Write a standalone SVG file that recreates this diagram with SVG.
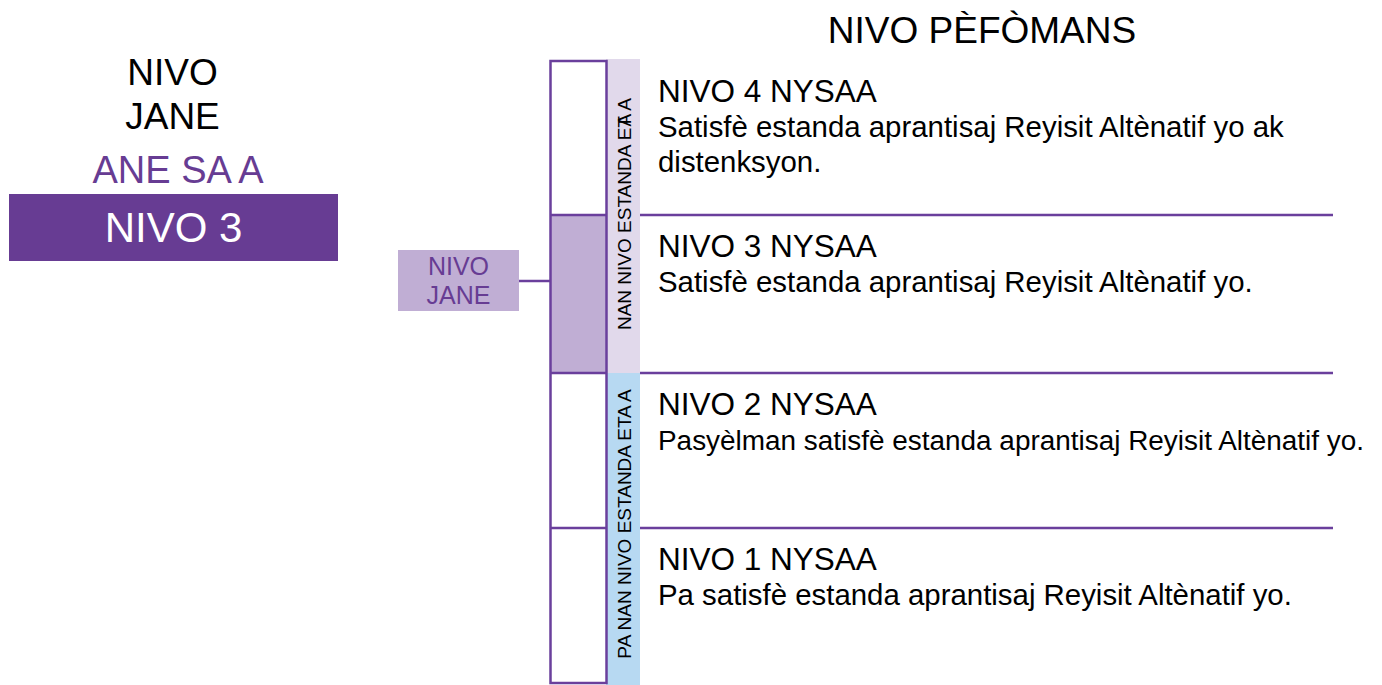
<svg xmlns="http://www.w3.org/2000/svg" width="1382" height="685" viewBox="0 0 1382 685">
<style>
text{font-family:"Liberation Sans",Arial,sans-serif}
.blk{fill:#000}
.pur{fill:#673c93}
.line{stroke:#6a3f9c;stroke-width:2.5;fill:none}
.h{font-size:31.5px}
.b{font-size:29.4px}
.v{font-size:19px;fill:#000}
</style>
<rect width="1382" height="685" fill="#fff"/>
<g id="title">
<text x="982" y="43" text-anchor="middle" font-size="37" class="blk">NIVO PÈFÒMANS</text>
</g>
<g id="legend-left">
<text x="172.5" y="85" text-anchor="middle" font-size="37" class="blk">NIVO</text>
<text x="172.5" y="129" text-anchor="middle" font-size="37" class="blk">JANE</text>
<text x="178" y="183" text-anchor="middle" font-size="38" class="pur">ANE SA A</text>
<rect x="9" y="194" width="329" height="67" fill="#673c93"/>
<text x="173.5" y="242" text-anchor="middle" font-size="42" fill="#fff">NIVO 3</text>
</g>
<g id="strips">
<rect x="606" y="59" width="34" height="314" fill="#e1d9eb"/>
<rect x="606" y="373" width="34" height="312" fill="#b7d9f2"/>
<text class="v" transform="translate(630.5,214) rotate(-90)" text-anchor="middle">NAN NIVO ESTANDA ET<tspan dx="-9">A</tspan> A</text>
<text class="v" transform="translate(630.5,524) rotate(-90)" text-anchor="middle">PA NAN NIVO ESTANDA ETA A</text>
</g>
<g id="scale-column">
<rect x="550.5" y="215" width="56" height="158" fill="#c0aed4"/>
<rect x="550.5" y="61" width="56" height="622" class="line"/>
<line x1="550.5" y1="215" x2="606.5" y2="215" class="line"/>
<line x1="550.5" y1="373" x2="606.5" y2="373" class="line"/>
<line x1="550.5" y1="528" x2="606.5" y2="528" class="line"/>
</g>
<g id="connectors">
<line x1="519" y1="281" x2="550" y2="281" class="line"/>
<line x1="640" y1="215" x2="1333" y2="215" class="line"/>
<line x1="640" y1="373" x2="1333" y2="373" class="line"/>
<line x1="640" y1="528" x2="1333" y2="528" class="line"/>
</g>
<g id="nivo-jane-marker">
<rect x="398" y="250" width="121" height="61" fill="#c0aed4"/>
<text x="458.5" y="275" text-anchor="middle" font-size="25" class="pur">NIVO</text>
<text x="458.5" y="304" text-anchor="middle" font-size="25" class="pur">JANE</text>
</g>
<g id="level4">
<text x="658" y="102" class="h blk">NIVO 4 NYSAA</text>
<text x="658" y="137" class="b blk">Satisfè estanda aprantisaj Reyisit Altènatif yo ak</text>
<text x="658" y="172" class="b blk">distenksyon.</text>
</g>
<g id="level3">
<text x="658" y="257" class="h blk">NIVO 3 NYSAA</text>
<text x="658" y="292" class="b blk">Satisfè estanda aprantisaj Reyisit Altènatif yo.</text>
</g>
<g id="level2">
<text x="658" y="415" class="h blk">NIVO 2 NYSAA</text>
<text x="658" y="450" font-size="28.2" class="blk" textLength="706" lengthAdjust="spacingAndGlyphs">Pasyèlman satisfè estanda aprantisaj Reyisit Altènatif yo.</text>
</g>
<g id="level1">
<text x="658" y="570" class="h blk">NIVO 1 NYSAA</text>
<text x="658" y="605" class="b blk">Pa satisfè estanda aprantisaj Reyisit Altènatif yo.</text>
</g>
</svg>
